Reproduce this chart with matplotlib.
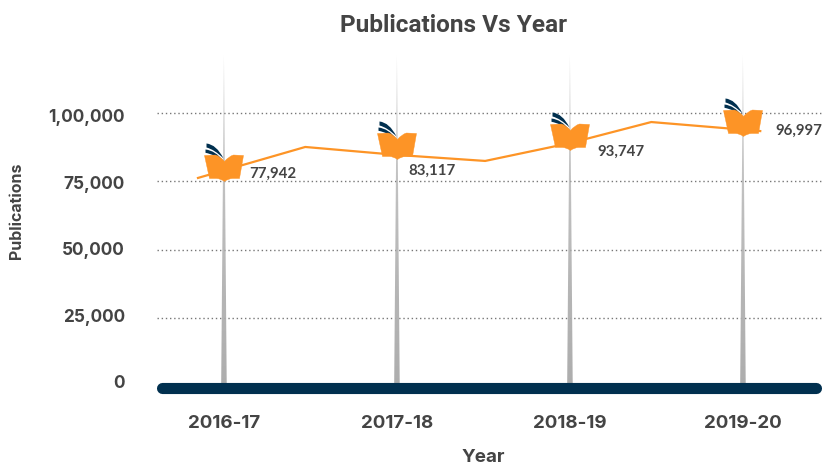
import numpy as np
import matplotlib.pyplot as plt
from matplotlib.path import Path
from matplotlib.patches import Polygon
from matplotlib.transforms import blended_transform_factory

years = ["2016-17", "2017-18", "2018-19", "2019-20"]
year_pos = [0, 1, 2, 3]
published = [77942, 83117, 93747, 96997]
icon_height = [79900, 87950, 91240, 96350]

line_x = [-0.15, 0.47, 1.0, 1.51, 2.0, 2.47, 3.1]
line_y = [76300, 87600, 84700, 82500, 89000, 96700, 93400]

y_ticks = [0, 25000, 50000, 75000, 100000]
y_labels = ["0", "25,000", "50,000", "75,000", "1,00,000"]
label_shift = [3, 1, -1, -3, -5]
value_shift = [(25, -6), (11, -25), (27, -15), (32, -8)]

W, H = 822, 468
ORANGE = "#fd9426"
NAVY = "#01304f"
TEXT = "#444444"
FONT = "Lato"

fig = plt.figure(figsize=(W / 100, H / 100), dpi=100)
ax = fig.add_axes([157 / W, (H - 400) / H, (822 - 157) / W, 350 / H])
ax.axis("off")

for t in y_ticks[1:]:
    ax.axhline(t, color="#777777", lw=1.0, ls=(0, (1, 2)), zorder=1)

# needles, fading out towards the top
top = 121200
fade = np.zeros((256, 1, 4))
fade[..., :3] = 0.68
fade[..., 3] = np.linspace(0.1, 1, 256)[:, None] ** 0.35
half = 2.8 / 173
for x in year_pos:
    im = ax.imshow(fade, extent=[x - half, x + half, 0, top], aspect="auto", zorder=2)
    tri = Polygon([(x - half, 0), (x + half, 0), (x, top)], transform=ax.transData, fc="none", ec="none")
    ax.add_patch(tri)
    im.set_clip_path(tri)

ax.plot(line_x, line_y, color=ORANGE, lw=1.6, zorder=3)

# book icon, units are pixels around the spine
M, C, Z = Path.MOVETO, Path.CURVE3, Path.CLOSEPOLY
L = Path.LINETO
book = Path(
    [(-20, 13), (-9, 13.5), (-4, 12), (0, 7), (4, 12), (9, 13.5), (19, 13), (15, -10),
     (8, -10), (4, -10), (0, -13), (-4, -10), (-8, -10), (-15, -10), (-20, 13)],
    [M, L, C, C, C, C, L, L, L, C, C, C, C, L, Z],
)
fin_a = Path(
    [(-18, 25), (-8, 24), (-1, 10), (-10, 19), (-18, 21), (-18, 25)],
    [M, C, C, C, C, Z],
)
fin_b = Path(
    [(-19, 19), (-9, 18), (-1, 7.3), (-10, 14), (-19, 15.7), (-19, 19)],
    [M, C, C, C, C, Z],
)


def marker_size(p):
    return 2 * np.abs(p.vertices).max() * 0.72


ax.plot(year_pos, icon_height, ls="none", marker=book, ms=marker_size(book),
        mfc=ORANGE, mec=ORANGE, mew=0.3, zorder=5)
ax.plot(year_pos, icon_height, ls="none", marker=fin_a, ms=marker_size(fin_a),
        mfc=NAVY, mec="none", zorder=4)
ax.plot(year_pos, icon_height, ls="none", marker=fin_b, ms=marker_size(fin_b),
        mfc=NAVY, mec="none", zorder=4)

for x, h, v, off in zip(year_pos, icon_height, published, value_shift):
    ax.annotate(f"{v:,}", (x, h), xytext=off, textcoords="offset pixels",
                family=FONT, weight="bold", fontsize=10.8, color=TEXT,
                va="center", ha="left", zorder=6)

# baseline
ax.plot([-0.357, 3.42], [-450, -450], color=NAVY, lw=8, solid_capstyle="round", zorder=6)

ax.set_xlim(-0.387, 3.457)
ax.set_ylim(-4745, 122990)

trans = blended_transform_factory(fig.transFigure, ax.transData)
for t, s, d in zip(y_ticks, y_labels, label_shift):
    ax.annotate(s, (125 / W, t), xycoords=trans, xytext=(0, d), textcoords="offset pixels",
                family="Inter", weight="bold", fontsize=12.4, color=TEXT, ha="right", va="center",
                annotation_clip=False)

for x, s in zip(year_pos, years):
    ax.annotate(s, (x, 0), xytext=(0, -37), textcoords="offset pixels",
                family="Inter", weight="bold", fontsize=13.5, color=TEXT, ha="center", va="center",
                annotation_clip=False)

fig.text(454 / W, 1 - 25 / H, "Publications Vs Year", family="Roboto", weight="bold",
         fontsize=17.6, color=TEXT, ha="center", va="center")
fig.text(483 / W, 1 - 458 / H, "Year", family="Inter", weight="bold",
         fontsize=13.5, color=TEXT, ha="center", va="center")
fig.text(16 / W, 1 - 211 / H, "Publications", family="Inter", weight="bold",
         fontsize=11.5, color=TEXT, ha="center", va="center", rotation=90)

plt.savefig("out.png", dpi=100)
